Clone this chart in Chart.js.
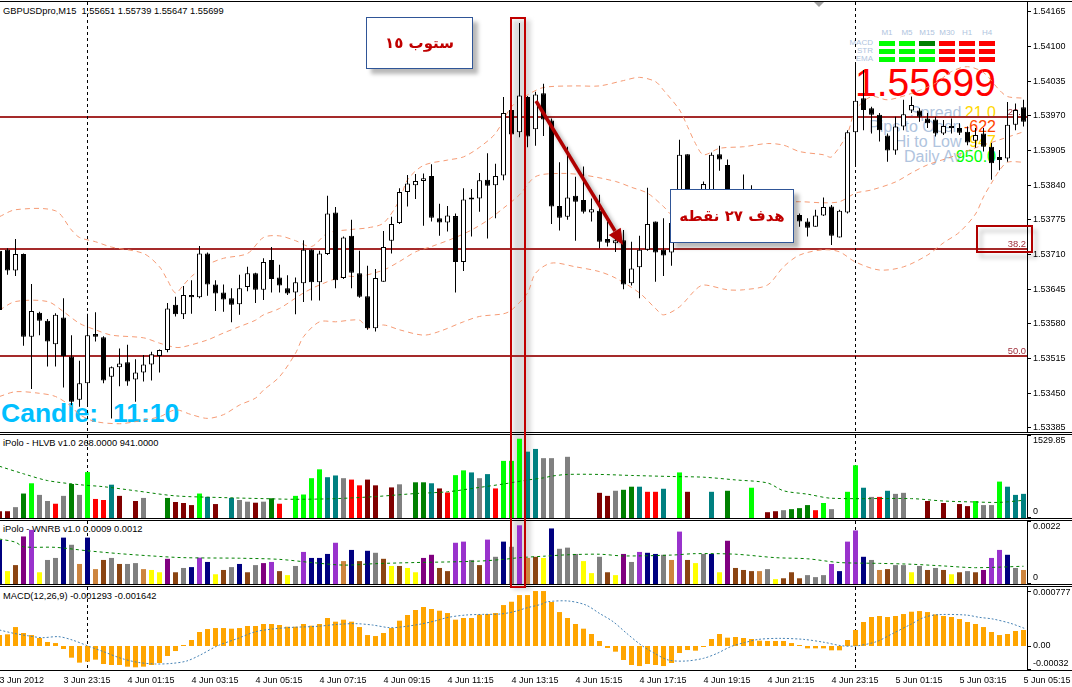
<!DOCTYPE html>
<html>
<head>
<meta charset="utf-8">
<title>GBPUSDpro M15</title>
<script src="https://cdn.jsdelivr.net/npm/chart.js@4.4.1/dist/chart.umd.min.js"></script>
<style>
  html, body { margin: 0; padding: 0; background: #fff; }
  #stage { position: relative; width: 1072px; height: 687px; overflow: hidden; background: #fff;
           font-family: "Liberation Sans", Arial, sans-serif; }
  #stage canvas { position: absolute; left: 0; z-index: 2; }
  .t { position: absolute; white-space: pre; line-height: 1; z-index: 1; }
  .ov { position: absolute; z-index: 3; box-sizing: border-box; }
  .note { background: #fff; border: 1px solid #2f5597; box-shadow: 5px 5px 4px rgba(0,0,0,0.28);
          display: flex; align-items: center; justify-content: center;
          font: bold 15px "DejaVu Sans", sans-serif; color: #c00000; direction: rtl; }
  .lbl { font-size: 16px; color: #b0c4de; right: 110.5px; }
  .val { font-size: 16px; right: 76px; }
</style>
</head>
<body>
<div id="stage">
  <canvas id="mainPane" width="1072" height="434" style="top:0"></canvas>
  <canvas id="hlvbPane" width="1072" height="86" style="top:433px"></canvas>
  <canvas id="wnrbPane" width="1072" height="67" style="top:519px"></canvas>
  <canvas id="macdPane" width="1072" height="101" style="top:586px"></canvas>

  <div class="t" style="left:3px;top:6.6px;font-size:9.3px">GBPUSDpro,M15  1.55651 1.55739 1.55647 1.55699</div>
  <div class="t" style="left:3px;top:439.1px;font-size:9.3px">iPolo - HLVB v1.0 268.0000 941.0000</div>
  <div class="t" style="left:3px;top:525.1px;font-size:9.3px">iPolo - WNRB v1.0 0.0009 0.0012</div>
  <div class="t" style="left:3px;top:592.1px;font-size:9.3px">MACD(12,26,9) -0.001293 -0.001642</div>
  <div class="t" style="left:1px;top:399.6px;font-size:26.5px;font-weight:bold;color:#00bfff">Candle:  11:10</div>
  <div class="t" style="right:76px;top:62.5px;font-size:39px;color:#ff0000">1.55699</div>
  <div class="t lbl" style="top:104.5px">Spread</div>
  <div class="t lbl" style="top:119px">Pips to Open</div>
  <div class="t lbl" style="top:134px">Hi to Low</div>
  <div class="t lbl" style="top:148.5px">Daily Av</div>
  <div class="t val" style="top:104.5px;color:#ffd700">21.0</div>
  <div class="t val" style="top:119px;color:#ff4500">-622</div>
  <div class="t val" style="top:134px;color:#ffd700">947</div>
  <div class="t val" style="top:148.5px;color:#00ff00">950.0</div>
  <div class="t" style="left:814px;top:2px;width:0;height:0;border-left:5px solid transparent;border-right:5px solid transparent;border-top:5px solid #a0a0a0"></div>
  <div class="t" style="left:513px;top:20px;width:18px;height:570px;background:#dcdcdc;filter:blur(2px)"></div>

  <div class="ov" style="left:510px;top:17px;width:16px;height:571px;border:2px solid #c00000"></div>
  <div class="ov note" style="left:366px;top:17px;width:107px;height:52px">ستوب ١٥</div>
  <div class="ov note" style="left:670px;top:189px;width:124px;height:54px">هدف ٢٧ نقطه</div>
  <div class="ov" style="left:976px;top:225px;width:57px;height:28px;border:2px solid #b00000;filter:drop-shadow(4px 5px 2px rgba(0,0,0,0.25))"></div>
  <svg class="ov" style="left:0;top:0;filter:drop-shadow(3px 3px 2px rgba(0,0,0,0.35))" width="1072" height="687">
    <line x1="536" y1="101" x2="615" y2="231" stroke="#b00000" stroke-width="3.5"/>
    <polygon points="623,245 608.7,234.9 620.7,227.7" fill="#b00000"/>
  </svg>
</div>

<script>
// ---- candles (bar 0 = 3 Jun 21:15, M15) ----
const opens = [1.53717,1.53719,1.53680,1.53711,1.53556,1.53601,1.53586,1.53542,1.53592,1.53519,
  1.53438,1.53469,1.53561,1.53555,1.53481,1.53499,1.53508,1.53476,1.53489,1.53504,
  1.53520,1.53531,1.53616,1.53598,1.53634,1.53630,1.53712,1.53654,1.53639,1.53628,
  1.53617,1.53649,1.53675,1.53644,1.53700,1.53667,1.53647,1.53639,1.53656,1.53719,
  1.53658,1.53711,1.53789,1.53666,1.53745,1.53675,1.53632,1.53572,1.53659,1.53736,
  1.53769,1.53827,1.53840,1.53848,1.53857,1.53778,1.53770,1.53782,1.53696,1.53817,
  1.53815,1.53850,1.53840,1.53858,1.53981,1.53939,1.54005,1.53945,1.54012,1.53961,
  1.53801,1.53781,1.53820,1.53812,1.53789,1.53792,1.53739,1.53731,1.53737,1.53656,
  1.53686,1.53719,1.53772,1.53719,1.53714,1.53745,1.53898,1.53784,1.53812,1.53831,
  1.53898,1.53878,1.53803,1.53784,1.53790,1.53812,1.53790,1.53765,1.53784,1.53775,
  1.53784,1.53772,1.53762,1.53783,1.53800,1.53742,1.53789,1.53939,1.54003,1.53984,
  1.53972,1.53933,1.53905,1.53950,1.53980,1.53980,1.53965,1.53963,1.53937,1.53947,
  1.53947,1.53940,1.53923,1.53937,1.53912,1.53893,1.53890,1.53953,1.53986];
const highs = [1.53722,1.53722,1.53739,1.53712,1.53655,1.53603,1.53589,1.53600,1.53628,1.53559,
  1.53511,1.53599,1.53602,1.53557,1.53500,1.53534,1.53541,1.53514,1.53522,1.53528,
  1.53532,1.53619,1.53631,1.53651,1.53662,1.53726,1.53714,1.53662,1.53654,1.53647,
  1.53672,1.53687,1.53676,1.53703,1.53724,1.53691,1.53671,1.53667,1.53737,1.53720,
  1.53717,1.53820,1.53799,1.53744,1.53775,1.53717,1.53689,1.53683,1.53754,1.53781,
  1.53834,1.53859,1.53861,1.53862,1.53879,1.53805,1.53801,1.53787,1.53834,1.53833,
  1.53863,1.53900,1.53880,1.54005,1.53985,1.54144,1.54007,1.54015,1.54030,1.53965,
  1.53883,1.53912,1.53856,1.53875,1.53815,1.53822,1.53772,1.53750,1.53756,1.53734,
  1.53745,1.53835,1.53772,1.53778,1.53775,1.53925,1.53898,1.53822,1.53847,1.53901,
  1.53914,1.53888,1.53822,1.53860,1.53840,1.53822,1.53803,1.53797,1.53794,1.53803,
  1.53787,1.53778,1.53794,1.53817,1.53803,1.53794,1.53943,1.54071,1.54056,1.53987,
  1.53975,1.53937,1.53968,1.54000,1.54006,1.53984,1.53975,1.53968,1.53962,1.53965,
  1.53956,1.53950,1.53947,1.53947,1.53919,1.53906,1.53996,1.53993,1.54000];
const lows = [1.53603,1.53672,1.53670,1.53539,1.53458,1.53559,1.53500,1.53500,1.53461,1.53428,
  1.53425,1.53425,1.53547,1.53469,1.53403,1.53463,1.53464,1.53434,1.53472,1.53474,
  1.53489,1.53527,1.53594,1.53589,1.53599,1.53628,1.53633,1.53604,1.53603,1.53583,
  1.53597,1.53641,1.53619,1.53625,1.53639,1.53639,1.53634,1.53598,1.53621,1.53624,
  1.53624,1.53709,1.53647,1.53664,1.53647,1.53629,1.53569,1.53566,1.53659,1.53712,
  1.53767,1.53800,1.53814,1.53764,1.53772,1.53745,1.53753,1.53639,1.53679,1.53744,
  1.53790,1.53740,1.53778,1.53849,1.53934,1.53930,1.53911,1.53914,1.53932,1.53767,
  1.53755,1.53775,1.53736,1.53787,1.53772,1.53722,1.53725,1.53715,1.53645,1.53652,
  1.53628,1.53717,1.53659,1.53670,1.53689,1.53741,1.53771,1.53765,1.53803,1.53822,
  1.53867,1.53794,1.53771,1.53775,1.53782,1.53779,1.53752,1.53756,1.53760,1.53764,
  1.53762,1.53744,1.53762,1.53782,1.53728,1.53742,1.53787,1.53875,1.53943,1.53937,
  1.53922,1.53884,1.53897,1.53943,1.53975,1.53959,1.53947,1.53931,1.53934,1.53937,
  1.53934,1.53915,1.53910,1.53903,1.53850,1.53868,1.53884,1.53943,1.53950];
const closes = [1.53606,1.53680,1.53711,1.53556,1.53604,1.53586,1.53547,1.53597,1.53520,1.53434,
  1.53469,1.53559,1.53556,1.53474,1.53499,1.53506,1.53472,1.53489,1.53504,1.53523,
  1.53531,1.53609,1.53598,1.53634,1.53630,1.53712,1.53654,1.53637,1.53626,1.53616,
  1.53647,1.53675,1.53644,1.53696,1.53664,1.53652,1.53637,1.53658,1.53719,1.53658,
  1.53712,1.53787,1.53662,1.53742,1.53676,1.53631,1.53572,1.53666,1.53724,1.53767,
  1.53827,1.53843,1.53848,1.53853,1.53779,1.53770,1.53783,1.53696,1.53813,1.53813,
  1.53849,1.53839,1.53857,1.53975,1.53935,1.54008,1.53931,1.54010,1.53963,1.53800,
  1.53779,1.53817,1.53809,1.53790,1.53795,1.53734,1.53732,1.53737,1.53654,1.53684,
  1.53719,1.53767,1.53714,1.53708,1.53769,1.53897,1.53784,1.53812,1.53842,1.53897,
  1.53888,1.53803,1.53784,1.53803,1.53812,1.53790,1.53765,1.53784,1.53775,1.53784,
  1.53772,1.53760,1.53783,1.53799,1.53745,1.53792,1.53939,1.53998,1.53981,1.53972,
  1.53943,1.53905,1.53950,1.53973,1.53990,1.53968,1.53956,1.53937,1.53951,1.53951,
  1.53938,1.53920,1.53934,1.53912,1.53881,1.53887,1.53953,1.53981,1.53959];

// ---- Bollinger bands: [bar, price] ----
const bbUpper = [[0,1.53781],[2,1.53794],[7,1.53792],[9,1.53756],[10,1.53742],[12,1.53734],[14,1.53724],
  [18,1.53712],[20,1.53687],[21,1.53662],[22,1.53638],[23,1.53653],[24,1.53669],[26,1.53691],[28,1.53703],
  [31,1.53712],[33,1.53742],[35,1.53745],[37,1.53736],[39,1.53725],[41,1.53750],[44,1.53757],[46,1.53760],
  [48,1.53769],[50,1.53812],[51,1.53850],[53,1.53877],[56,1.53887],[58,1.53893],[60,1.53911],[62,1.53937],
  [64,1.53987],[66,1.54009],[68,1.54023],[72,1.54026],[75,1.54026],[78,1.54036],[80,1.54042],[82,1.54034],
  [83,1.54018],[85,1.53981],[86,1.53950],[87,1.53918],[88,1.53897],[90,1.53909],[93,1.53912],[96,1.53918],
  [98,1.53915],[100,1.53903],[103,1.53897],[104,1.53893],[106,1.53937],[107,1.53981],[109,1.54006],
  [111,1.54000],[114,1.54012],[117,1.54031],[119,1.54053],[121,1.54062],[123,1.54051],[125,1.54018],
  [126,1.54006],[128,1.54003]];
const bbMiddle = [[0,1.53606],[2,1.53622],[6,1.53622],[8,1.53603],[10,1.53581],[12,1.53569],[14,1.53559],
  [18,1.53554],[20,1.53544],[22,1.53536],[23,1.53537],[26,1.53550],[28,1.53563],[30,1.53575],[32,1.53587],
  [33,1.53597],[35,1.53609],[38,1.53638],[40,1.53653],[43,1.53669],[45,1.53669],[48,1.53681],[50,1.53697],
  [52,1.53715],[54,1.53725],[57,1.53742],[59,1.53756],[61,1.53774],[63,1.53797],[65,1.53822],[67,1.53856],
  [70,1.53862],[73,1.53859],[77,1.53847],[79,1.53836],[81,1.53825],[83,1.53800],[84,1.53784],[86,1.53765],
  [90,1.53771],[95,1.53794],[98,1.53807],[100,1.53809],[103,1.53807],[105,1.53809],[107,1.53825],
  [109,1.53831],[112,1.53846],[114,1.53863],[116,1.53878],[119,1.53893],[122,1.53910],[125,1.53925],[128,1.53940]];
const bbLower = [[0,1.53444],[2,1.53453],[5,1.53450],[7,1.53444],[9,1.53425],[10,1.53410],[12,1.53397],
  [15,1.53393],[17,1.53397],[20,1.53406],[22,1.53419],[24,1.53410],[26,1.53403],[28,1.53410],[30,1.53428],
  [32,1.53441],[33,1.53456],[35,1.53481],[37,1.53525],[38,1.53556],[40,1.53584],[42,1.53584],[45,1.53587],
  [46,1.53572],[48,1.53578],[50,1.53569],[53,1.53559],[55,1.53566],[58,1.53584],[60,1.53594],[63,1.53599],
  [64,1.53606],[66,1.53638],[67,1.53675],[69,1.53694],[72,1.53687],[75,1.53678],[77,1.53666],[80,1.53638],
  [82,1.53609],[83,1.53597],[85,1.53612],[87,1.53644],[88,1.53653],[91,1.53644],[93,1.53644],[96,1.53653],
  [98,1.53687],[100,1.53709],[103,1.53719],[105,1.53715],[107,1.53696],[110,1.53681],[113,1.53687],
  [116,1.53709],[118,1.53732],[120,1.53752],[122,1.53786],[123,1.53818],[124,1.53844],[125,1.53868],
  [126,1.53883],[128,1.53883]];

// ---- iPolo HLVB ----
const hlvb = [125,125,200,451,640,426,313,263,408,627,
  426,846,351,332,614,408,null,313,370,null,
  null,370,295,276,238,451,389,257,null,370,
  332,301,282,301,364,263,null,408,433,734,
  897,752,784,734,708,602,708,602,null,564,
  621,null,658,658,640,545,470,790,878,840,
  734,809,545,1053,1053,1461,1223,1273,1103,1103,
  null,1128,null,null,null,464,408,502,520,577,
  577,483,483,539,null,840,483,null,null,483,
  null,502,null,null,558,null,107,125,144,163,
  182,238,144,276,163,null,483,972,558,389,
  389,502,445,464,null,null,313,null,276,null,
  257,219,313,238,238,671,577,426,445];
const hlvbKinds = 'MMGDLGGRGDGLRRTM-MG--DMMMLTM-TGGMGDR-LLLLTTGRRMM-MG-DDTMRLLTGTRLLLTTGG-G---MMGDDTRRT-LM--T-D--L-MMGDDDRLG-LLTGRTGG--M-M-MMLGGLTTT';
const hlvbPalette = { M: '#800000', G: '#808080', D: '#008000', L: '#00ff00', R: '#ff0000', T: '#008080', '-': '#ffffff' };
const hlvbAvg = [[0,953],[3,815],[6,690],[10,614],[13,577],[17,502],[22,408],[28,376],[33,357],[37,345],
  [42,357],[47,395],[52,451],[56,483],[60,564],[63,627],[66,700],[68,740],[69,771],[71,803],[75,803],
  [79,784],[84,765],[88,752],[92,702],[96,646],[98,502],[101,439],[104,364],[114,357],[118,313],
  [122,295],[125,288],[128,326]];

// ---- iPolo WNRB ----
const wnrb = [0.00154,0.00045,0.00066,0.00166,0.00189,0.00041,0.00084,0.00091,0.00162,0.00137,
  0.0007,0.00162,0.00052,0.00084,0.00091,0.0007,0.0007,0.00073,0.00052,0.00049,
  0.00041,0.00088,0.00041,0.00056,0.00059,0.00092,0.00077,0.00034,0.00049,0.00059,
  0.0007,0.00041,0.00066,0.00073,0.00077,0.00045,0.00031,0.00063,0.00112,0.00091,
  0.00091,0.00105,0.00144,0.0008,0.00119,0.0008,0.00116,0.00109,0.00088,0.00063,
  0.00063,0.00056,0.00041,0.00091,0.00102,0.00056,0.00045,0.00144,0.00148,0.00084,
  0.00066,0.00155,0.00095,0.00148,0.0013,0.00205,0.00091,0.00095,0.00091,0.00194,
  0.00123,0.00127,0.00105,0.0008,0.00038,0.00095,0.00041,0.00031,0.00105,0.00077,
  0.00112,0.00109,0.00105,0.00102,0.00084,0.00183,0.00084,0.00073,0.00105,0.00105,
  0.00041,0.00151,0.00056,0.00049,0.00045,0.00045,0.00052,0.00017,0.0002,0.00041,
  0.0002,0.00031,0.00024,0.00031,0.0007,0.00045,0.00148,0.00187,0.00095,0.00084,
  0.00049,0.00052,0.00066,0.00066,0.00041,0.00063,0.00049,0.00056,0.00049,0.00034,
  0.00041,0.00045,0.00041,0.00049,0.00091,0.00119,0.00102,0.00056,0.00049];
const wnrbKinds = 'NYBPOYGGNGENEBGBGGEYYPBGNONYBGNBGPOBYGONNNOENBNGBYBYYPPBBOOGBOGNGOEBYNGGGYYGBYPGONNGEOBYGNYPBBBEGYBBBGGGONOONGEBGGYGBGBYBGBPOONGE';
const wnrbPalette = { N: '#000080', Y: '#ffff00', B: '#8b4513', P: '#800080', O: '#9932cc', G: '#808080', E: '#cd853f' };
const wnrbAvg = [[0,0.00157],[2,0.00146],[3,0.0013],[7,0.00128],[11,0.00116],[15,0.00106],[19,0.00098],
  [23,0.00092],[30,0.0009],[35,0.00086],[39,0.00075],[43,0.00066],[47,0.00071],[52,0.00075],[56,0.00077],
  [60,0.0008],[63,0.00086],[65,0.00092],[68,0.00097],[71,0.00102],[75,0.00104],[78,0.00098],[84,0.00101],
  [87,0.00106],[92,0.00104],[97,0.00092],[101,0.00088],[105,0.00075],[110,0.00072],[114,0.00069],
  [118,0.00063],[122,0.00057],[128,0.00062]];

// ---- MACD(12,26,9) ----
const macdHist = [0.000155,0.000165,0.000268,0.000184,0.000155,0.000113,0.000057,0.000042,-0.000042,-0.000165,
  -0.000235,-0.000221,-0.000193,-0.000254,-0.000268,-0.000268,-0.000292,-0.000301,-0.000292,-0.000268,
  -0.00024,-0.000141,-0.000071,0.000014,0.000085,0.000198,0.00024,0.000254,0.000254,0.000245,
  0.000254,0.000283,0.000283,0.000311,0.000311,0.000297,0.000273,0.000273,0.000311,0.000287,
  0.000311,0.000396,0.000344,0.000372,0.000344,0.000268,0.000155,0.000141,0.000184,0.000254,
  0.000358,0.000438,0.000509,0.000551,0.000523,0.000499,0.000466,0.000372,0.000396,0.000396,
  0.000443,0.000452,0.000466,0.000579,0.000626,0.00072,0.00072,0.000777,0.000777,0.000622,
  0.00048,0.000396,0.000311,0.000245,0.00017,0.000071,-0.000028,-0.00008,-0.000198,-0.000268,
  -0.000283,-0.000254,-0.000268,-0.000283,-0.00024,-0.000099,-0.000057,-0.000066,-0.000014,0.000099,
  0.00017,0.000118,0.000127,0.000113,0.000099,0.000075,0.000071,0.000071,0.000071,0.000042,
  0.000014,-0.000033,-0.000033,-0.000033,-0.000061,-0.000061,0.000085,0.000226,0.000339,0.00041,
  0.000424,0.00041,0.000424,0.000452,0.000485,0.000494,0.00048,0.000447,0.000424,0.00041,
  0.000381,0.000339,0.000311,0.000268,0.000198,0.000155,0.00017,0.000212,0.000226];
const macdSignal = [[0,0.000226],[1.8,0.000179],[3.5,0.000146],[5.3,0.000118],[7.4,0.000132],[9.1,0.000085],
  [11.3,-0.00001],[13,-0.00008],[15.2,-0.000174],[17.3,-0.000231],[19.5,-0.000254],[21.6,-0.000245],
  [23.4,-0.000212],[25.1,-0.000127],[27.2,0],[29.8,0.000108],[32,0.000202],[34.1,0.00024],[36.7,0.000264],
  [39.7,0.000278],[42.3,0.000306],[44.5,0.000316],[46.6,0.000297],[48.8,0.000259],[50.5,0.000273],
  [52.7,0.000311],[54.4,0.000353],[56.1,0.000405],[58.3,0.000438],[60.4,0.000447],[62.6,0.000452],
  [64.3,0.000485],[66,0.000542],[67.7,0.000589],[68.5,0.000626],[71.1,0.000636],[73.3,0.000579],
  [75,0.000461],[76.7,0.000344],[78.4,0.000179],[80.2,0.000014],[81.9,-0.000104],[83.6,-0.000198],
  [85.8,-0.000212],[88,-0.000174],[89.7,-0.000104],[91.4,-0.000009],[93.1,0.000047],[94.9,0.000094],
  [97.5,0.000108],[100.5,0.000094],[103.1,0.000052],[105.2,0.000005],[107,0],[109.6,0.000061],
  [111.7,0.000179],[113.9,0.000306],[115.6,0.000405],[117.3,0.000443],[120.8,0.000438],[122.5,0.000405],
  [124.2,0.000381],[126.4,0.00032],[128.1,0.00025]];

// ---- axes ----
const priceTicks = [1.54165,1.54100,1.54035,1.53970,1.53905,1.53840,1.53775,1.53710,1.53645,1.53580,1.53515,1.53450,1.53385];
const timeTickBars = [0,8,16,24,32,40,48,56,64,72,80,88,96,104,112,120,128];
const timeLabels = ['3 Jun 2012','3 Jun 23:15','4 Jun 01:15','4 Jun 03:15','4 Jun 05:15','4 Jun 07:15',
  '4 Jun 09:15','4 Jun 11:15','4 Jun 13:15','4 Jun 15:15','4 Jun 17:15','4 Jun 19:15','4 Jun 21:15',
  '4 Jun 23:15','5 Jun 01:15','5 Jun 03:15','5 Jun 05:15'];
const separatorBars = [11, 107];
const fibLevels = [1.53968, 1.53720, 1.53519];
const fibNames = ['23.6', '38.2', '50.0'];
const hlvbTicks = [1529.85, 0], hlvbTickText = ['1529.85', '0'];
const wnrbTicks = [0.0022, 0], wnrbTickText = ['0.0022', '0'];
const macdTicks = [0.000777, 0, -0.00032], macdTickText = ['0.000777', '0.00', '-0.00032'];

// ---- signal panel ----
const tfLabels = ['M1', 'M5', 'M15', 'M30', 'H1', 'H4'];
const sigRows = ['MACD', 'STR', 'EMA'];
const sigColors = [
  ['#00ff00', '#00ff00', '#008000', '#ff0000', '#ff0000', '#ff0000'],
  ['#00ff00', '#00ff00', '#00ff00', '#ff0000', '#ff0000', '#ff0000'],
  ['#00ff00', '#00ff00', '#00ff00', '#ff0000', '#ff0000', '#ff0000']];

const stage = document.getElementById('stage');
function addBox(text, style) {
  const d = document.createElement('div');
  d.className = 't';
  d.textContent = text;
  Object.assign(d.style, style);
  stage.appendChild(d);
}
tfLabels.forEach((s, k) => addBox(s, { left: (871 + 20 * k) + 'px', width: '32px', textAlign: 'center',
  top: '29.2px', fontSize: '8px', color: '#b0c4de' }));
sigRows.forEach((s, r) => {
  addBox(s, { right: '199px', top: (39.2 + 8 * r) + 'px', fontSize: '8px', color: '#b0c4de' });
  sigColors[r].forEach((c, k) => addBox('', { left: (879 + 20 * k) + 'px', top: (41 + 8 * r) + 'px',
    width: '16px', height: '5px', background: c }));
});

// ---- chart helpers ----
Chart.defaults.font.family = '"Liberation Sans", Arial, sans-serif';
Chart.defaults.font.size = 9;
Chart.defaults.color = '#000';

const X_MIN = 0.0625, X_MAX = 128.4375;

function makeDecor(cfg) {
  return {
    id: 'paneDecor',
    beforeDatasetsDraw(chart) {
      const { ctx, chartArea: a, scales } = chart;
      ctx.save();
      if (cfg.levels) {
        ctx.font = '9.4px "Liberation Sans", Arial, sans-serif';
        ctx.textAlign = 'right';
        ctx.textBaseline = 'alphabetic';
        cfg.levels.forEach((p, i) => {
          const y = Math.round(scales.y.getPixelForValue(p));
          ctx.fillStyle = '#a52a2a';
          ctx.fillRect(a.left, y - 1, a.right - a.left, 2);
          ctx.fillStyle = '#a0303c';
          ctx.fillText(cfg.levelNames[i], a.right - 1, y - 2);
        });
      }
      ctx.strokeStyle = '#000';
      ctx.lineWidth = 1;
      ctx.setLineDash([3, 3]);
      separatorBars.forEach(b => {
        const x = scales.x.getPixelForValue(b);
        ctx.beginPath();
        ctx.moveTo(x, a.top);
        ctx.lineTo(x, a.bottom);
        ctx.stroke();
      });
      ctx.restore();
    },
    afterDraw(chart) {
      const { ctx, chartArea: a, scales, width } = chart;
      ctx.save();
      ctx.fillStyle = '#000';
      ctx.fillRect(0, a.top - 1, width, 1);
      ctx.fillRect(0, a.bottom, width, 1);
      if (cfg.values) {
        ctx.font = '9px "Liberation Sans", Arial, sans-serif';
        ctx.textAlign = 'left';
        ctx.textBaseline = 'middle';
        cfg.values.forEach((v, i) => {
          const py = Math.min(Math.max(scales.y.getPixelForValue(v), a.top), a.bottom - 1);
          const ty = Math.min(Math.max(py, a.top + 6), a.bottom - 6);
          ctx.fillRect(a.right, Math.round(py), 4, 1);
          ctx.fillText(cfg.texts[i], a.right + 6, ty);
        });
      }
      ctx.restore();
    }
  };
}

function xAxis(show) {
  const base = { type: 'linear', min: X_MIN, max: X_MAX, offset: false, bounds: 'data',
                 grid: { display: false, drawTicks: false, offset: false }, border: { display: false } };
  if (!show) return Object.assign(base, { display: false });
  return Object.assign(base, {
    display: true,
    afterBuildTicks: s => { s.ticks = timeTickBars.map(v => ({ value: v })); },
    afterFit: s => { s.height = 17; s.paddingLeft = 0; s.paddingRight = 0; },
    ticks: { align: 'start', autoSkip: false, maxRotation: 0, minRotation: 0, padding: 5,
             callback: (v, i) => timeLabels[i] }
  });
}

function yAxis(min, max, extra) {
  return Object.assign({
    type: 'linear', position: 'right', min: min, max: max,
    grid: { display: false }, border: { display: true, color: '#000' },
    ticks: { display: false },
    afterFit: s => { s.width = 45; s.paddingTop = 0; s.paddingBottom = 0; }
  }, extra || {});
}

function paneChart(id, datasets, y, showX, pad, decor) {
  return new Chart(document.getElementById(id), {
    type: 'bar',
    data: { datasets: datasets },
    options: {
      responsive: false, animation: false, devicePixelRatio: 1, events: [],
      layout: { padding: pad },
      plugins: { legend: { display: false }, tooltip: { enabled: false } },
      scales: { x: xAxis(showX), y: y }
    },
    plugins: [makeDecor(decor)]
  });
}

const pts = arr => arr.map(p => ({ x: p[0], y: p[1] }));
const bandStyle = { type: 'line', borderColor: 'rgba(244,150,110,0.95)', borderWidth: 1, borderDash: [5, 4],
  pointRadius: 0, tension: 0.3, order: 3 };

// ---- main price pane ----
paneChart('mainPane', [
  { type: 'bar', order: 1, data: opens.map((o, i) => ({ x: i, y: [o, closes[i]] })),
    backgroundColor: opens.map((o, i) => closes[i] >= o ? '#ffffff' : '#000000'),
    borderColor: '#000', borderWidth: 1, borderSkipped: false, minBarLength: 1,
    maxBarThickness: 5, grouped: false, inflateAmount: 0 },
  { type: 'bar', order: 2, data: lows.map((l, i) => ({ x: i, y: [l, highs[i]] })),
    backgroundColor: '#000', borderWidth: 0, maxBarThickness: 1, grouped: false, inflateAmount: 0 },
  Object.assign({ data: pts(bbUpper) }, bandStyle),
  Object.assign({ data: pts(bbMiddle) }, bandStyle),
  Object.assign({ data: pts(bbLower) }, bandStyle)
], yAxis(1.533775, 1.541832, {
  grid: { display: true, drawOnChartArea: false, drawTicks: true, tickLength: 4, color: '#000' },
  ticks: { display: true, padding: 2, callback: v => v.toFixed(5) },
  afterBuildTicks: s => { s.ticks = priceTicks.map(v => ({ value: v })); }
}), false, { top: 2, bottom: 2, left: 0, right: 0 }, { levels: fibLevels, levelNames: fibNames });

// ---- HLVB pane ----
paneChart('hlvbPane', [
  { type: 'bar', order: 2, data: hlvb.map((v, i) => ({ x: i, y: v })),
    backgroundColor: hlvb.map((v, i) => hlvbPalette[hlvbKinds[i]]),
    borderWidth: 0, maxBarThickness: 5, grouped: false, inflateAmount: 0 },
  { type: 'line', order: 1, data: pts(hlvbAvg), borderColor: '#008000', borderWidth: 1,
    borderDash: [3, 3], pointRadius: 0, tension: 0.3 }
], yAxis(0, 1529.85), false, { top: 2, bottom: 1, left: 0, right: 0 },
  { values: hlvbTicks, texts: hlvbTickText });

// ---- WNRB pane ----
paneChart('wnrbPane', [
  { type: 'bar', order: 2, data: wnrb.map((v, i) => ({ x: i, y: v })),
    backgroundColor: wnrb.map((v, i) => wnrbPalette[wnrbKinds[i]]),
    borderWidth: 0, maxBarThickness: 5, grouped: false, inflateAmount: 0 },
  { type: 'line', order: 1, data: pts(wnrbAvg), borderColor: '#008000', borderWidth: 1,
    borderDash: [3, 3], pointRadius: 0, tension: 0.3 }
], yAxis(0, 0.0022), false, { top: 2, bottom: 2, left: 0, right: 0 },
  { values: wnrbTicks, texts: wnrbTickText });

// ---- MACD pane ----
paneChart('macdPane', [
  { type: 'bar', order: 2, data: macdHist.map((v, i) => ({ x: i, y: v })),
    backgroundColor: '#ffa500', borderWidth: 0, maxBarThickness: 5, grouped: false, inflateAmount: 0 },
  { type: 'line', order: 1, data: pts(macdSignal), borderColor: '#4682b4', borderWidth: 1,
    borderDash: [2, 2], pointRadius: 0, tension: 0.3 }
], yAxis(-0.000339, 0.000834), true, { top: 1, bottom: 0, left: 0, right: 0 },
  { values: macdTicks, texts: macdTickText });
</script>
</body>
</html>
